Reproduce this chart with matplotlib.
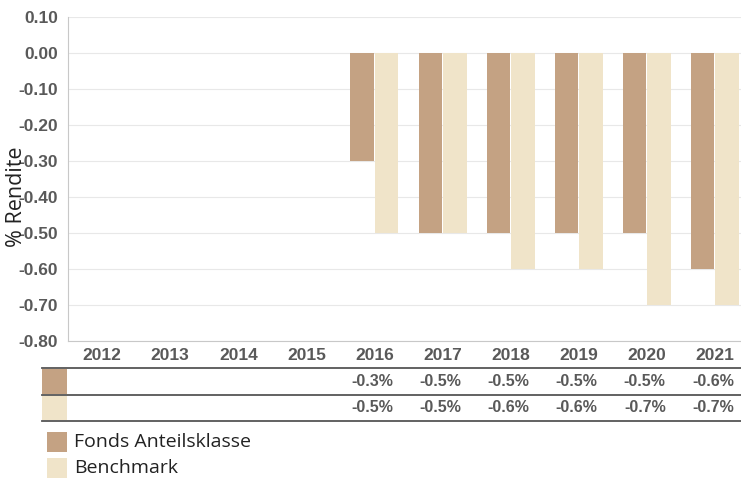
import numpy as np
import matplotlib
matplotlib.use("Agg")
import matplotlib.pyplot as plt
from matplotlib.patches import Rectangle
from matplotlib.transforms import blended_transform_factory

# data
years = ['2012', '2013', '2014', '2015', '2016', '2017', '2018', '2019', '2020', '2021']
fonds = [np.nan, np.nan, np.nan, np.nan, -0.3, -0.5, -0.5, -0.5, -0.5, -0.6]
bench = [np.nan, np.nan, np.nan, np.nan, -0.5, -0.5, -0.6, -0.6, -0.7, -0.7]
series_names = ['Fonds Anteilsklasse', 'Benchmark']
colors = ['#C4A283', '#F0E4C9']

W, H = 741, 480
fig = plt.figure(figsize=(W / 100, H / 100), dpi=100)
# plot area runs slightly past the right edge like the original
ax = fig.add_axes([68 / W, 1 - 341 / H, (749 - 68) / W, (341 - 17) / H])

x = np.arange(len(years))
bw = 0.345
ax.bar(x - bw / 2 - 0.007, fonds, bw, color=colors[0], zorder=3)
ax.bar(x + bw / 2 + 0.007, bench, bw, color=colors[1], zorder=3)

tick_font = dict(fontfamily='Liberation Sans', fontweight='bold', fontsize=12.5, color='#595959')
ax.set_xlim(-0.5, len(years) - 0.5)
ax.set_ylim(-0.8, 0.1)
yt = np.arange(-0.8, 0.101, 0.1)
ax.set_yticks(yt)
ax.set_yticklabels(['%.2f' % v if abs(v) > 1e-9 else '0.00' for v in yt], **tick_font)
ax.set_xticks(x)
ax.set_xticklabels(years, **tick_font)
ax.tick_params(axis='y', length=0, pad=7)
ax.tick_params(axis='x', length=0, pad=5)
ax.grid(axis='y', color='#e8e8e8', linewidth=0.8, zorder=0)
for s in ['top', 'right']:
    ax.spines[s].set_visible(False)
ax.spines['left'].set_color('#c8c8c8')
ax.spines['bottom'].set_color('#c8c8c8')
ax.set_ylabel('% Rendite', fontfamily='Open Sans', fontsize=15.5, color='#222222')
ax.yaxis.set_label_coords(-0.060, 0.445)

# table below the chart
for yy in [368, 395, 421]:
    fig.add_artist(plt.Line2D([42 / W, 1], [1 - yy / H, 1 - yy / H], color='#555555', linewidth=1.3))
fig.add_artist(Rectangle((42 / W, 1 - 394 / H), 25 / W, 25 / H, transform=fig.transFigure,
                         color=colors[0], linewidth=0))
fig.add_artist(Rectangle((42 / W, 1 - 420 / H), 25 / W, 24 / H, transform=fig.transFigure,
                         color=colors[1], linewidth=0))
tr = blended_transform_factory(ax.transData, fig.transFigure)
for i in range(len(years)):
    for vals, yy in [(fonds, 382), (bench, 408)]:
        if not np.isnan(vals[i]):
            fig.text(i - 0.03, 1 - yy / H, '%.1f%%' % vals[i], transform=tr, ha='center', va='center',
                     fontfamily='Liberation Sans', fontweight='bold', fontsize=11.5, color='#595959')

# legend
for k, (name, yy) in enumerate(zip(series_names, [432, 458])):
    fig.add_artist(Rectangle((47 / W, 1 - (yy + 20) / H), 20 / W, 20 / H, transform=fig.transFigure,
                             color=colors[k], linewidth=0))
    fig.text(74 / W, 1 - (yy + 10) / H, name, ha='left', va='center',
             fontfamily='Open Sans', fontsize=14, color='#222222')

fig.savefig('out.png', dpi=100)
